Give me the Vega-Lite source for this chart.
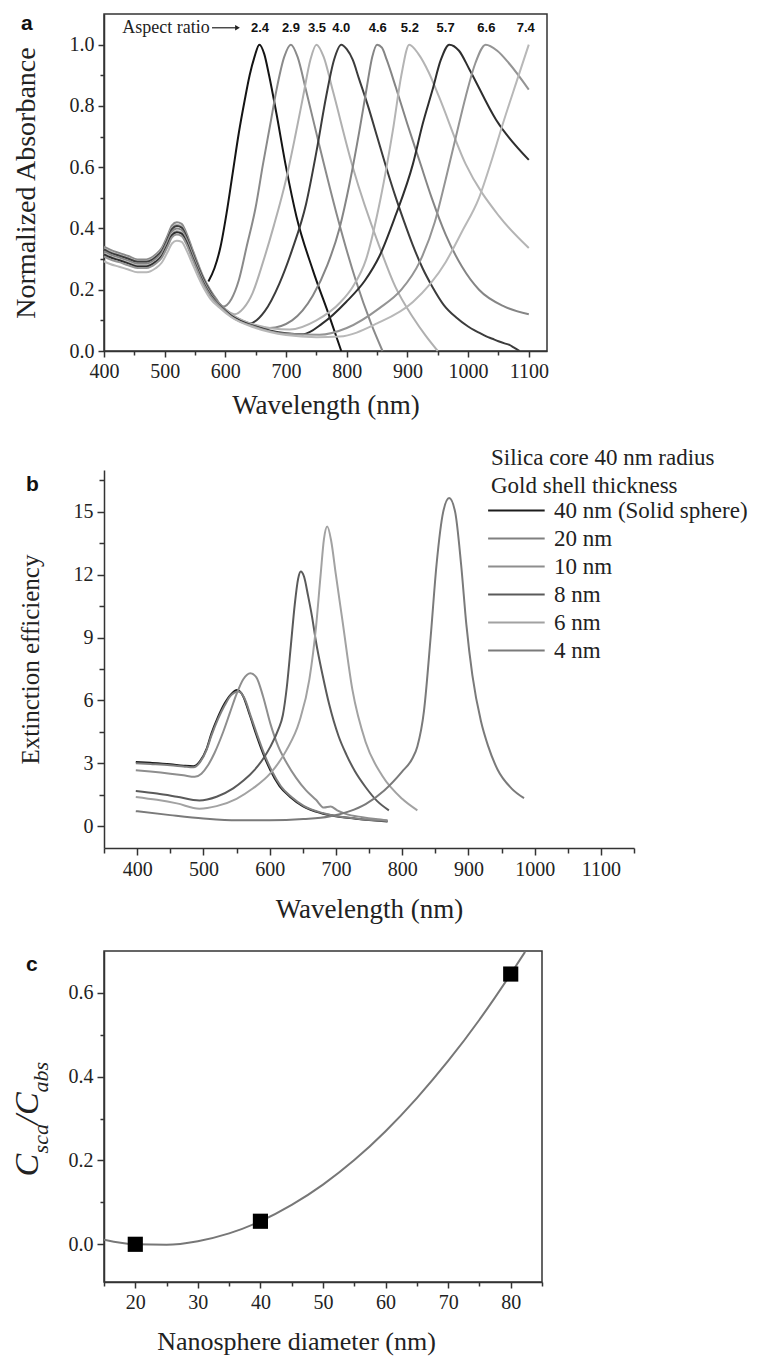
{
"$schema": "https://vega.github.io/schema/vega-lite/v6.json",
"background": "white",
"padding": {"left": 10, "top": 12, "right": 5, "bottom": 5},
"spacing": 28,
"resolve": {"scale": {"color": "independent"}, "legend": {"color": "independent"}},
"datasets": {
"absA": [
{"ar":"2.4","wl":572,"v":0.227},{"ar":"2.4","wl":582,"v":0.27},{"ar":"2.4","wl":592,"v":0.34},{"ar":"2.4","wl":602,"v":0.45},{"ar":"2.4","wl":612,"v":0.58},{"ar":"2.4","wl":622,"v":0.71},{"ar":"2.4","wl":632,"v":0.82},{"ar":"2.4","wl":640,"v":0.9},{"ar":"2.4","wl":648,"v":0.96},{"ar":"2.4","wl":656,"v":1.0},{"ar":"2.4","wl":664,"v":0.97},{"ar":"2.4","wl":672,"v":0.9},{"ar":"2.4","wl":684,"v":0.777},{"ar":"2.4","wl":700,"v":0.6},{"ar":"2.4","wl":717,"v":0.44},{"ar":"2.4","wl":744,"v":0.265},{"ar":"2.4","wl":772,"v":0.11},{"ar":"2.4","wl":791,"v":0.0},
{"ar":"2.9","wl":400,"v":0.341},{"ar":"2.9","wl":410,"v":0.331},{"ar":"2.9","wl":425,"v":0.32},{"ar":"2.9","wl":440,"v":0.31},{"ar":"2.9","wl":455,"v":0.299},{"ar":"2.9","wl":470,"v":0.299},{"ar":"2.9","wl":485,"v":0.315},{"ar":"2.9","wl":495,"v":0.336},{"ar":"2.9","wl":505,"v":0.378},{"ar":"2.9","wl":512,"v":0.41},{"ar":"2.9","wl":520,"v":0.42},{"ar":"2.9","wl":528,"v":0.415},{"ar":"2.9","wl":535,"v":0.389},{"ar":"2.9","wl":545,"v":0.336},{"ar":"2.9","wl":555,"v":0.284},{"ar":"2.9","wl":565,"v":0.236},{"ar":"2.9","wl":575,"v":0.2},{"ar":"2.9","wl":585,"v":0.17},{"ar":"2.9","wl":596,"v":0.145},{"ar":"2.9","wl":610,"v":0.17},{"ar":"2.9","wl":622,"v":0.23},{"ar":"2.9","wl":635,"v":0.34},{"ar":"2.9","wl":650,"v":0.47},{"ar":"2.9","wl":662,"v":0.61},{"ar":"2.9","wl":674,"v":0.74},{"ar":"2.9","wl":684,"v":0.85},{"ar":"2.9","wl":697,"v":0.96},{"ar":"2.9","wl":708,"v":1.0},{"ar":"2.9","wl":719,"v":0.96},{"ar":"2.9","wl":733,"v":0.85},{"ar":"2.9","wl":755,"v":0.67},{"ar":"2.9","wl":783,"v":0.45},{"ar":"2.9","wl":815,"v":0.23},{"ar":"2.9","wl":840,"v":0.09},{"ar":"2.9","wl":859,"v":0.0},
{"ar":"3.5","wl":400,"v":0.335},{"ar":"3.5","wl":410,"v":0.324},{"ar":"3.5","wl":425,"v":0.314},{"ar":"3.5","wl":440,"v":0.304},{"ar":"3.5","wl":455,"v":0.294},{"ar":"3.5","wl":470,"v":0.294},{"ar":"3.5","wl":485,"v":0.309},{"ar":"3.5","wl":495,"v":0.33},{"ar":"3.5","wl":505,"v":0.371},{"ar":"3.5","wl":512,"v":0.402},{"ar":"3.5","wl":520,"v":0.412},{"ar":"3.5","wl":528,"v":0.407},{"ar":"3.5","wl":535,"v":0.381},{"ar":"3.5","wl":545,"v":0.33},{"ar":"3.5","wl":555,"v":0.278},{"ar":"3.5","wl":565,"v":0.232},{"ar":"3.5","wl":575,"v":0.196},{"ar":"3.5","wl":585,"v":0.165},{"ar":"3.5","wl":600,"v":0.135},{"ar":"3.5","wl":615,"v":0.12},{"ar":"3.5","wl":630,"v":0.14},{"ar":"3.5","wl":645,"v":0.19},{"ar":"3.5","wl":662,"v":0.29},{"ar":"3.5","wl":680,"v":0.41},{"ar":"3.5","wl":700,"v":0.56},{"ar":"3.5","wl":715,"v":0.7},{"ar":"3.5","wl":728,"v":0.83},{"ar":"3.5","wl":740,"v":0.95},{"ar":"3.5","wl":750,"v":1.0},{"ar":"3.5","wl":762,"v":0.96},{"ar":"3.5","wl":777,"v":0.85},{"ar":"3.5","wl":810,"v":0.6},{"ar":"3.5","wl":854,"v":0.34},{"ar":"3.5","wl":880,"v":0.21},{"ar":"3.5","wl":909,"v":0.11},{"ar":"3.5","wl":930,"v":0.05},{"ar":"3.5","wl":950,"v":0.0},
{"ar":"4.0","wl":400,"v":0.332},{"ar":"4.0","wl":410,"v":0.321},{"ar":"4.0","wl":425,"v":0.311},{"ar":"4.0","wl":440,"v":0.301},{"ar":"4.0","wl":455,"v":0.291},{"ar":"4.0","wl":470,"v":0.291},{"ar":"4.0","wl":485,"v":0.306},{"ar":"4.0","wl":495,"v":0.326},{"ar":"4.0","wl":505,"v":0.367},{"ar":"4.0","wl":512,"v":0.398},{"ar":"4.0","wl":520,"v":0.408},{"ar":"4.0","wl":528,"v":0.403},{"ar":"4.0","wl":535,"v":0.377},{"ar":"4.0","wl":545,"v":0.326},{"ar":"4.0","wl":555,"v":0.275},{"ar":"4.0","wl":565,"v":0.23},{"ar":"4.0","wl":575,"v":0.194},{"ar":"4.0","wl":590,"v":0.15},{"ar":"4.0","wl":610,"v":0.115},{"ar":"4.0","wl":640,"v":0.09},{"ar":"4.0","wl":665,"v":0.13},{"ar":"4.0","wl":689,"v":0.22},{"ar":"4.0","wl":710,"v":0.33},{"ar":"4.0","wl":733,"v":0.48},{"ar":"4.0","wl":750,"v":0.65},{"ar":"4.0","wl":766,"v":0.83},{"ar":"4.0","wl":779,"v":0.95},{"ar":"4.0","wl":791,"v":1.0},{"ar":"4.0","wl":800,"v":0.985},{"ar":"4.0","wl":810,"v":0.95},{"ar":"4.0","wl":820,"v":0.89},{"ar":"4.0","wl":835,"v":0.8},{"ar":"4.0","wl":850,"v":0.7},{"ar":"4.0","wl":865,"v":0.6},{"ar":"4.0","wl":881,"v":0.5},{"ar":"4.0","wl":895,"v":0.42},{"ar":"4.0","wl":909,"v":0.345},{"ar":"4.0","wl":925,"v":0.27},{"ar":"4.0","wl":941,"v":0.21},{"ar":"4.0","wl":960,"v":0.15},{"ar":"4.0","wl":980,"v":0.11},{"ar":"4.0","wl":1000,"v":0.08},{"ar":"4.0","wl":1010,"v":0.068},{"ar":"4.0","wl":1018,"v":0.06},{"ar":"4.0","wl":1030,"v":0.048},{"ar":"4.0","wl":1040,"v":0.04},{"ar":"4.0","wl":1050,"v":0.032},{"ar":"4.0","wl":1060,"v":0.025},{"ar":"4.0","wl":1068,"v":0.02},{"ar":"4.0","wl":1075,"v":0.012},{"ar":"4.0","wl":1085,"v":0.0},
{"ar":"4.6","wl":400,"v":0.325},{"ar":"4.6","wl":410,"v":0.315},{"ar":"4.6","wl":425,"v":0.305},{"ar":"4.6","wl":440,"v":0.295},{"ar":"4.6","wl":455,"v":0.285},{"ar":"4.6","wl":470,"v":0.285},{"ar":"4.6","wl":485,"v":0.3},{"ar":"4.6","wl":495,"v":0.32},{"ar":"4.6","wl":505,"v":0.36},{"ar":"4.6","wl":512,"v":0.39},{"ar":"4.6","wl":520,"v":0.4},{"ar":"4.6","wl":528,"v":0.395},{"ar":"4.6","wl":535,"v":0.37},{"ar":"4.6","wl":545,"v":0.32},{"ar":"4.6","wl":555,"v":0.27},{"ar":"4.6","wl":565,"v":0.225},{"ar":"4.6","wl":575,"v":0.19},{"ar":"4.6","wl":590,"v":0.155},{"ar":"4.6","wl":610,"v":0.12},{"ar":"4.6","wl":640,"v":0.09},{"ar":"4.6","wl":673,"v":0.075},{"ar":"4.6","wl":710,"v":0.1},{"ar":"4.6","wl":744,"v":0.18},{"ar":"4.6","wl":768,"v":0.28},{"ar":"4.6","wl":788,"v":0.4},{"ar":"4.6","wl":805,"v":0.55},{"ar":"4.6","wl":821,"v":0.72},{"ar":"4.6","wl":833,"v":0.86},{"ar":"4.6","wl":842,"v":0.96},{"ar":"4.6","wl":850,"v":1.0},{"ar":"4.6","wl":858,"v":0.99},{"ar":"4.6","wl":866,"v":0.95},{"ar":"4.6","wl":881,"v":0.86},{"ar":"4.6","wl":900,"v":0.74},{"ar":"4.6","wl":920,"v":0.62},{"ar":"4.6","wl":940,"v":0.5},{"ar":"4.6","wl":963,"v":0.38},{"ar":"4.6","wl":990,"v":0.275},{"ar":"4.6","wl":1018,"v":0.2},{"ar":"4.6","wl":1060,"v":0.145},{"ar":"4.6","wl":1100,"v":0.12},
{"ar":"5.2","wl":400,"v":0.319},{"ar":"5.2","wl":410,"v":0.309},{"ar":"5.2","wl":425,"v":0.299},{"ar":"5.2","wl":440,"v":0.289},{"ar":"5.2","wl":455,"v":0.279},{"ar":"5.2","wl":470,"v":0.279},{"ar":"5.2","wl":485,"v":0.294},{"ar":"5.2","wl":495,"v":0.314},{"ar":"5.2","wl":505,"v":0.353},{"ar":"5.2","wl":512,"v":0.382},{"ar":"5.2","wl":520,"v":0.392},{"ar":"5.2","wl":528,"v":0.387},{"ar":"5.2","wl":535,"v":0.363},{"ar":"5.2","wl":545,"v":0.314},{"ar":"5.2","wl":555,"v":0.265},{"ar":"5.2","wl":565,"v":0.221},{"ar":"5.2","wl":575,"v":0.186},{"ar":"5.2","wl":590,"v":0.152},{"ar":"5.2","wl":610,"v":0.12},{"ar":"5.2","wl":650,"v":0.085},{"ar":"5.2","wl":706,"v":0.07},{"ar":"5.2","wl":750,"v":0.1},{"ar":"5.2","wl":790,"v":0.16},{"ar":"5.2","wl":810,"v":0.21},{"ar":"5.2","wl":832,"v":0.3},{"ar":"5.2","wl":856,"v":0.5},{"ar":"5.2","wl":876,"v":0.72},{"ar":"5.2","wl":890,"v":0.9},{"ar":"5.2","wl":903,"v":1.0},{"ar":"5.2","wl":918,"v":0.97},{"ar":"5.2","wl":935,"v":0.91},{"ar":"5.2","wl":952,"v":0.83},{"ar":"5.2","wl":996,"v":0.61},{"ar":"5.2","wl":1051,"v":0.44},{"ar":"5.2","wl":1100,"v":0.336},
{"ar":"5.7","wl":400,"v":0.315},{"ar":"5.7","wl":410,"v":0.306},{"ar":"5.7","wl":425,"v":0.296},{"ar":"5.7","wl":440,"v":0.286},{"ar":"5.7","wl":455,"v":0.276},{"ar":"5.7","wl":470,"v":0.276},{"ar":"5.7","wl":485,"v":0.291},{"ar":"5.7","wl":495,"v":0.31},{"ar":"5.7","wl":505,"v":0.349},{"ar":"5.7","wl":512,"v":0.378},{"ar":"5.7","wl":520,"v":0.388},{"ar":"5.7","wl":528,"v":0.383},{"ar":"5.7","wl":535,"v":0.359},{"ar":"5.7","wl":545,"v":0.31},{"ar":"5.7","wl":555,"v":0.262},{"ar":"5.7","wl":565,"v":0.218},{"ar":"5.7","wl":575,"v":0.184},{"ar":"5.7","wl":590,"v":0.15},{"ar":"5.7","wl":610,"v":0.115},{"ar":"5.7","wl":650,"v":0.08},{"ar":"5.7","wl":700,"v":0.058},{"ar":"5.7","wl":728,"v":0.055},{"ar":"5.7","wl":760,"v":0.09},{"ar":"5.7","wl":799,"v":0.16},{"ar":"5.7","wl":830,"v":0.23},{"ar":"5.7","wl":854,"v":0.31},{"ar":"5.7","wl":880,"v":0.44},{"ar":"5.7","wl":909,"v":0.61},{"ar":"5.7","wl":925,"v":0.74},{"ar":"5.7","wl":941,"v":0.85},{"ar":"5.7","wl":955,"v":0.95},{"ar":"5.7","wl":969,"v":1.0},{"ar":"5.7","wl":985,"v":0.98},{"ar":"5.7","wl":1002,"v":0.92},{"ar":"5.7","wl":1046,"v":0.755},{"ar":"5.7","wl":1100,"v":0.624},
{"ar":"6.6","wl":400,"v":0.309},{"ar":"6.6","wl":410,"v":0.299},{"ar":"6.6","wl":425,"v":0.29},{"ar":"6.6","wl":440,"v":0.28},{"ar":"6.6","wl":455,"v":0.271},{"ar":"6.6","wl":470,"v":0.271},{"ar":"6.6","wl":485,"v":0.285},{"ar":"6.6","wl":495,"v":0.304},{"ar":"6.6","wl":505,"v":0.342},{"ar":"6.6","wl":512,"v":0.371},{"ar":"6.6","wl":520,"v":0.38},{"ar":"6.6","wl":528,"v":0.375},{"ar":"6.6","wl":535,"v":0.352},{"ar":"6.6","wl":545,"v":0.304},{"ar":"6.6","wl":555,"v":0.257},{"ar":"6.6","wl":565,"v":0.214},{"ar":"6.6","wl":575,"v":0.181},{"ar":"6.6","wl":590,"v":0.148},{"ar":"6.6","wl":610,"v":0.112},{"ar":"6.6","wl":650,"v":0.078},{"ar":"6.6","wl":700,"v":0.056},{"ar":"6.6","wl":755,"v":0.053},{"ar":"6.6","wl":800,"v":0.075},{"ar":"6.6","wl":854,"v":0.14},{"ar":"6.6","wl":890,"v":0.2},{"ar":"6.6","wl":920,"v":0.29},{"ar":"6.6","wl":945,"v":0.42},{"ar":"6.6","wl":963,"v":0.56},{"ar":"6.6","wl":980,"v":0.7},{"ar":"6.6","wl":996,"v":0.83},{"ar":"6.6","wl":1012,"v":0.94},{"ar":"6.6","wl":1029,"v":1.0},{"ar":"6.6","wl":1048,"v":0.98},{"ar":"6.6","wl":1067,"v":0.94},{"ar":"6.6","wl":1100,"v":0.853},
{"ar":"7.4","wl":400,"v":0.293},{"ar":"7.4","wl":410,"v":0.284},{"ar":"7.4","wl":425,"v":0.275},{"ar":"7.4","wl":440,"v":0.266},{"ar":"7.4","wl":455,"v":0.257},{"ar":"7.4","wl":470,"v":0.257},{"ar":"7.4","wl":485,"v":0.27},{"ar":"7.4","wl":495,"v":0.288},{"ar":"7.4","wl":505,"v":0.324},{"ar":"7.4","wl":512,"v":0.351},{"ar":"7.4","wl":520,"v":0.36},{"ar":"7.4","wl":528,"v":0.356},{"ar":"7.4","wl":535,"v":0.333},{"ar":"7.4","wl":545,"v":0.288},{"ar":"7.4","wl":555,"v":0.243},{"ar":"7.4","wl":565,"v":0.203},{"ar":"7.4","wl":575,"v":0.171},{"ar":"7.4","wl":590,"v":0.142},{"ar":"7.4","wl":610,"v":0.11},{"ar":"7.4","wl":650,"v":0.075},{"ar":"7.4","wl":700,"v":0.052},{"ar":"7.4","wl":750,"v":0.045},{"ar":"7.4","wl":788,"v":0.047},{"ar":"7.4","wl":850,"v":0.09},{"ar":"7.4","wl":909,"v":0.16},{"ar":"7.4","wl":963,"v":0.29},{"ar":"7.4","wl":990,"v":0.39},{"ar":"7.4","wl":1018,"v":0.5},{"ar":"7.4","wl":1040,"v":0.63},{"ar":"7.4","wl":1057,"v":0.74},{"ar":"7.4","wl":1080,"v":0.88},{"ar":"7.4","wl":1100,"v":1.0}
],
"arLab": [
{"ar":"2.4","wl":657},{"ar":"2.9","wl":708},{"ar":"3.5","wl":751},{"ar":"4.0","wl":791},{"ar":"4.6","wl":851},{"ar":"5.2","wl":904},{"ar":"5.7","wl":963},{"ar":"6.6","wl":1030},{"ar":"7.4","wl":1095}
],
"extB": [
{"shell":"40 nm (Solid sphere)","wl":398,"e":3.06},{"shell":"40 nm (Solid sphere)","wl":420,"e":3.02},{"shell":"40 nm (Solid sphere)","wl":450,"e":2.95},{"shell":"40 nm (Solid sphere)","wl":470,"e":2.88},{"shell":"40 nm (Solid sphere)","wl":485,"e":2.85},{"shell":"40 nm (Solid sphere)","wl":495,"e":3.1},{"shell":"40 nm (Solid sphere)","wl":505,"e":3.7},{"shell":"40 nm (Solid sphere)","wl":512,"e":4.4},{"shell":"40 nm (Solid sphere)","wl":522,"e":5.2},{"shell":"40 nm (Solid sphere)","wl":532,"e":5.85},{"shell":"40 nm (Solid sphere)","wl":542,"e":6.3},{"shell":"40 nm (Solid sphere)","wl":551,"e":6.49},{"shell":"40 nm (Solid sphere)","wl":560,"e":6.2},{"shell":"40 nm (Solid sphere)","wl":570,"e":5.3},{"shell":"40 nm (Solid sphere)","wl":581,"e":4.26},{"shell":"40 nm (Solid sphere)","wl":591,"e":3.4},{"shell":"40 nm (Solid sphere)","wl":601,"e":2.67},{"shell":"40 nm (Solid sphere)","wl":615,"e":1.9},{"shell":"40 nm (Solid sphere)","wl":631,"e":1.39},{"shell":"40 nm (Solid sphere)","wl":650,"e":0.95},{"shell":"40 nm (Solid sphere)","wl":677,"e":0.62},{"shell":"40 nm (Solid sphere)","wl":700,"e":0.47},{"shell":"40 nm (Solid sphere)","wl":730,"e":0.35},{"shell":"40 nm (Solid sphere)","wl":760,"e":0.26},{"shell":"40 nm (Solid sphere)","wl":778,"e":0.22},
{"shell":"20 nm","wl":398,"e":3.0},{"shell":"20 nm","wl":420,"e":2.96},{"shell":"20 nm","wl":450,"e":2.9},{"shell":"20 nm","wl":470,"e":2.84},{"shell":"20 nm","wl":485,"e":2.8},{"shell":"20 nm","wl":495,"e":3.05},{"shell":"20 nm","wl":505,"e":3.65},{"shell":"20 nm","wl":512,"e":4.3},{"shell":"20 nm","wl":522,"e":5.1},{"shell":"20 nm","wl":532,"e":5.75},{"shell":"20 nm","wl":542,"e":6.25},{"shell":"20 nm","wl":553,"e":6.42},{"shell":"20 nm","wl":562,"e":6.1},{"shell":"20 nm","wl":572,"e":5.2},{"shell":"20 nm","wl":583,"e":4.2},{"shell":"20 nm","wl":593,"e":3.35},{"shell":"20 nm","wl":603,"e":2.65},{"shell":"20 nm","wl":617,"e":1.9},{"shell":"20 nm","wl":633,"e":1.38},{"shell":"20 nm","wl":652,"e":0.95},{"shell":"20 nm","wl":680,"e":0.62},{"shell":"20 nm","wl":700,"e":0.48},{"shell":"20 nm","wl":730,"e":0.36},{"shell":"20 nm","wl":760,"e":0.27},{"shell":"20 nm","wl":778,"e":0.24},
{"shell":"10 nm","wl":398,"e":2.66},{"shell":"10 nm","wl":420,"e":2.6},{"shell":"10 nm","wl":450,"e":2.5},{"shell":"10 nm","wl":470,"e":2.42},{"shell":"10 nm","wl":487,"e":2.35},{"shell":"10 nm","wl":497,"e":2.5},{"shell":"10 nm","wl":507,"e":2.9},{"shell":"10 nm","wl":517,"e":3.5},{"shell":"10 nm","wl":530,"e":4.5},{"shell":"10 nm","wl":540,"e":5.4},{"shell":"10 nm","wl":550,"e":6.3},{"shell":"10 nm","wl":560,"e":7.0},{"shell":"10 nm","wl":571,"e":7.3},{"shell":"10 nm","wl":580,"e":7.1},{"shell":"10 nm","wl":590,"e":6.2},{"shell":"10 nm","wl":601,"e":4.9},{"shell":"10 nm","wl":613,"e":3.8},{"shell":"10 nm","wl":626,"e":3.0},{"shell":"10 nm","wl":640,"e":2.3},{"shell":"10 nm","wl":655,"e":1.7},{"shell":"10 nm","wl":670,"e":1.25},{"shell":"10 nm","wl":682,"e":0.88},{"shell":"10 nm","wl":692,"e":0.93},{"shell":"10 nm","wl":702,"e":0.75},{"shell":"10 nm","wl":715,"e":0.58},{"shell":"10 nm","wl":740,"e":0.42},{"shell":"10 nm","wl":760,"e":0.33},{"shell":"10 nm","wl":778,"e":0.27},
{"shell":"8 nm","wl":398,"e":1.67},{"shell":"8 nm","wl":430,"e":1.55},{"shell":"8 nm","wl":460,"e":1.4},{"shell":"8 nm","wl":494,"e":1.22},{"shell":"8 nm","wl":520,"e":1.4},{"shell":"8 nm","wl":545,"e":1.8},{"shell":"8 nm","wl":561,"e":2.18},{"shell":"8 nm","wl":577,"e":2.67},{"shell":"8 nm","wl":590,"e":3.2},{"shell":"8 nm","wl":601,"e":3.78},{"shell":"8 nm","wl":613,"e":4.6},{"shell":"8 nm","wl":620,"e":5.3},{"shell":"8 nm","wl":626,"e":6.65},{"shell":"8 nm","wl":632,"e":8.6},{"shell":"8 nm","wl":638,"e":10.6},{"shell":"8 nm","wl":643,"e":11.8},{"shell":"8 nm","wl":647,"e":12.15},{"shell":"8 nm","wl":652,"e":11.9},{"shell":"8 nm","wl":658,"e":11.0},{"shell":"8 nm","wl":664,"e":10.0},{"shell":"8 nm","wl":670,"e":8.8},{"shell":"8 nm","wl":680,"e":7.2},{"shell":"8 nm","wl":690,"e":5.8},{"shell":"8 nm","wl":704,"e":4.3},{"shell":"8 nm","wl":716,"e":3.4},{"shell":"8 nm","wl":729,"e":2.6},{"shell":"8 nm","wl":745,"e":1.85},{"shell":"8 nm","wl":762,"e":1.2},{"shell":"8 nm","wl":780,"e":0.75},
{"shell":"6 nm","wl":398,"e":1.39},{"shell":"6 nm","wl":430,"e":1.25},{"shell":"6 nm","wl":460,"e":1.08},{"shell":"6 nm","wl":494,"e":0.83},{"shell":"6 nm","wl":520,"e":0.95},{"shell":"6 nm","wl":550,"e":1.3},{"shell":"6 nm","wl":575,"e":1.8},{"shell":"6 nm","wl":601,"e":2.51},{"shell":"6 nm","wl":625,"e":3.6},{"shell":"6 nm","wl":645,"e":5.0},{"shell":"6 nm","wl":660,"e":7.0},{"shell":"6 nm","wl":670,"e":9.5},{"shell":"6 nm","wl":677,"e":12.0},{"shell":"6 nm","wl":682,"e":13.7},{"shell":"6 nm","wl":687,"e":14.3},{"shell":"6 nm","wl":693,"e":13.6},{"shell":"6 nm","wl":700,"e":12.0},{"shell":"6 nm","wl":710,"e":9.8},{"shell":"6 nm","wl":725,"e":6.5},{"shell":"6 nm","wl":745,"e":4.0},{"shell":"6 nm","wl":770,"e":2.4},{"shell":"6 nm","wl":800,"e":1.3},{"shell":"6 nm","wl":823,"e":0.75},
{"shell":"4 nm","wl":398,"e":0.71},{"shell":"4 nm","wl":450,"e":0.52},{"shell":"4 nm","wl":500,"e":0.36},{"shell":"4 nm","wl":551,"e":0.27},{"shell":"4 nm","wl":600,"e":0.27},{"shell":"4 nm","wl":651,"e":0.33},{"shell":"4 nm","wl":690,"e":0.45},{"shell":"4 nm","wl":720,"e":0.7},{"shell":"4 nm","wl":745,"e":1.05},{"shell":"4 nm","wl":773,"e":1.7},{"shell":"4 nm","wl":800,"e":2.6},{"shell":"4 nm","wl":815,"e":3.2},{"shell":"4 nm","wl":823,"e":3.8},{"shell":"4 nm","wl":833,"e":5.5},{"shell":"4 nm","wl":843,"e":9.0},{"shell":"4 nm","wl":852,"e":12.5},{"shell":"4 nm","wl":862,"e":15.0},{"shell":"4 nm","wl":871,"e":15.66},{"shell":"4 nm","wl":880,"e":15.0},{"shell":"4 nm","wl":889,"e":12.5},{"shell":"4 nm","wl":897,"e":9.6},{"shell":"4 nm","wl":906,"e":7.2},{"shell":"4 nm","wl":919,"e":5.0},{"shell":"4 nm","wl":930,"e":3.8},{"shell":"4 nm","wl":944,"e":2.7},{"shell":"4 nm","wl":965,"e":1.8},{"shell":"4 nm","wl":984,"e":1.33}
],
"fitC": [
{"d":15,"r":0.011},{"d":20,"r":0.0},{"d":25,"r":-0.001},{"d":30,"r":0.0075},{"d":35,"r":0.026},{"d":40,"r":0.055},{"d":45,"r":0.094},{"d":50,"r":0.1425},{"d":55,"r":0.201},{"d":60,"r":0.27},{"d":65,"r":0.349},{"d":70,"r":0.4375},{"d":75,"r":0.536},{"d":80,"r":0.645},{"d":82.3,"r":0.698}
],
"ptsC": [
{"d":20,"r":0.0},{"d":40,"r":0.055},{"d":80,"r":0.645}
]
},
"vconcat": [
{
"width": 443, "height": 337,
"title": {"text": "a", "anchor": "start", "frame": "group", "font": "Liberation Sans", "fontSize": 21, "fontWeight": "bold", "color": "#111", "dx": -83, "dy": 20, "offset": 0},
"layer": [
{"data": {"name": "absA"},
 "mark": {"type": "line", "interpolate": "monotone", "strokeWidth": 2},
 "encoding": {
  "x": {"field": "wl", "type": "quantitative", "scale": {"domain": [400, 1130], "nice": false, "zero": false},
   "axis": {"title": "Wavelength (nm)", "titleFontSize": 27, "values": [400,450,500,550,600,650,700,750,800,850,900,950,1000,1050,1100], "tickCount": 100,
     "labelExpr": "datum.value % 100 === 0 ? format(datum.value, 'd') : ''",
     "tickSize": {"condition": {"test": "datum.value % 100 === 0", "value": 6}, "value": 4},
     "labelPadding": 4, "titlePadding": 11}},
  "y": {"field": "v", "type": "quantitative", "scale": {"domain": [0, 1.1], "nice": false},
   "axis": {"title": "Normalized Absorbance", "titleFontSize": 28, "values": [0,0.1,0.2,0.3,0.4,0.5,0.6,0.7,0.8,0.9,1.0], "tickCount": 100,
     "labelExpr": "round(datum.value*10) % 2 === 0 ? format(datum.value, '.1f') : ''",
     "tickSize": {"condition": {"test": "round(datum.value*10) % 2 === 0", "value": 6}, "value": 4},
     "labelPadding": 4, "titlePadding": 29}},
  "color": {"field": "ar", "type": "nominal",
   "scale": {"domain": ["2.4","2.9","3.5","4.0","4.6","5.2","5.7","6.6","7.4"],
     "range": ["#141414","#8a8a8a","#b0b0b0","#3c3c3c","#858585","#b4b4b4","#2e2e2e","#949494","#b8b8b8"]},
   "legend": null}
 }},
{"data": {"values": [{}]},
 "mark": {"type": "text", "text": "Aspect ratio", "align": "left", "baseline": "middle", "font": "Liberation Serif", "fontSize": 18, "color": "#222"},
 "encoding": {"x": {"datum": 430}, "y": {"datum": 1.055}}},
{"data": {"values": [{}]},
 "mark": {"type": "rule", "color": "#222", "strokeWidth": 1.2},
 "encoding": {"x": {"datum": 578}, "x2": {"datum": 617}, "y": {"datum": 1.055}}},
{"data": {"values": [{}]},
 "mark": {"type": "point", "shape": "triangle-right", "filled": true, "color": "#222", "size": 30, "opacity": 1},
 "encoding": {"x": {"datum": 620}, "y": {"datum": 1.055}}},
{"data": {"name": "arLab"},
 "mark": {"type": "text", "font": "Liberation Sans", "fontWeight": "bold", "fontSize": 13, "color": "#111", "baseline": "middle"},
 "encoding": {"x": {"field": "wl", "type": "quantitative"}, "y": {"datum": 1.055}, "text": {"field": "ar"}}}
]
},
{
"width": 530, "height": 378,
"view": {"stroke": null},
"title": {"text": "b", "anchor": "start", "frame": "group", "font": "Liberation Sans", "fontSize": 21, "fontWeight": "bold", "color": "#111", "dx": -78, "dy": 48, "offset": 0},
"data": {"name": "extB"},
"mark": {"type": "line", "interpolate": "monotone", "strokeWidth": 2},
"encoding": {
 "x": {"field": "wl", "type": "quantitative", "scale": {"domain": [350, 1150], "nice": false, "zero": false},
  "axis": {"title": "Wavelength (nm)", "titleFontSize": 27, "values": [350,400,450,500,550,600,650,700,750,800,850,900,950,1000,1050,1100,1150], "tickCount": 100,
    "labelExpr": "datum.value % 100 === 0 ? format(datum.value, 'd') : ''",
    "tickSize": {"condition": {"test": "datum.value % 100 === 0", "value": 7}, "value": 5},
    "labelPadding": 4, "titlePadding": 17}},
 "y": {"field": "e", "type": "quantitative", "scale": {"domain": [-1.05, 17], "nice": false, "zero": false},
  "axis": {"title": "Extinction efficiency", "titleFontSize": 25, "values": [0,1.5,3,4.5,6,7.5,9,10.5,12,13.5,15,16.5], "tickCount": 100,
    "labelExpr": "datum.value % 3 === 0 ? format(datum.value, 'd') : ''",
    "tickSize": {"condition": {"test": "datum.value % 3 === 0", "value": 7}, "value": 5},
    "labelPadding": 4, "titlePadding": 30}},
 "color": {"field": "shell", "type": "nominal",
  "scale": {"domain": ["40 nm (Solid sphere)","20 nm","10 nm","8 nm","6 nm","4 nm"],
    "range": ["#1c1c1c","#808080","#8e8e8e","#5a5a5a","#a2a2a2","#7a7a7a"]},
  "legend": {"orient": "none", "legendX": 387, "legendY": -23,
    "title": ["Silica core 40 nm radius", "Gold shell thickness"],
    "titleFont": "Liberation Serif", "titleFontSize": 23, "titleFontWeight": "normal", "titleColor": "#222", "titleLineHeight": 28, "titlePadding": -3, "titleLimit": 500,
    "labelFont": "Liberation Serif", "labelFontSize": 23, "labelColor": "#222", "labelOffset": 32, "labelLimit": 500,
    "symbolType": "M-1.3,0H2.7", "symbolSize": 800, "symbolStrokeWidth": 2, "rowPadding": 0}}
}
},
{
"width": 438, "height": 331,
"title": {"text": "c", "anchor": "start", "frame": "group", "font": "Liberation Sans", "fontSize": 21, "fontWeight": "bold", "color": "#111", "dx": -78, "dy": 24, "offset": 0},
"layer": [
{"encoding": {
  "x": {"field": "d", "type": "quantitative", "scale": {"domain": [15, 85], "nice": false, "zero": false},
   "axis": {"title": "Nanosphere diameter (nm)", "titleX": 192, "values": [15,20,25,30,35,40,45,50,55,60,65,70,75,80,85], "tickCount": 100,
     "labelExpr": "datum.value % 10 === 0 ? format(datum.value, 'd') : ''",
     "tickSize": {"condition": {"test": "datum.value % 10 === 0", "value": 6}, "value": 4},
     "labelPadding": 4, "titlePadding": 16}},
  "y": {"field": "r", "type": "quantitative", "scale": {"domain": [-0.09, 0.7], "nice": false, "zero": false},
   "axis": {"title": null, "values": [0,0.1,0.2,0.3,0.4,0.5,0.6], "tickCount": 100,
     "labelExpr": "round(datum.value*10) % 2 === 0 ? format(datum.value, '.1f') : ''",
     "tickSize": {"condition": {"test": "round(datum.value*10) % 2 === 0", "value": 7}, "value": 4},
     "labelPadding": 4}}
 },
 "layer": [
  {"data": {"name": "fitC"},
   "mark": {"type": "line", "interpolate": "monotone", "color": "#777", "strokeWidth": 2, "clip": true}},
  {"data": {"name": "ptsC"},
   "mark": {"type": "square", "size": 230, "color": "#000", "filled": true, "opacity": 1}}
 ]},
{"data": {"values": [{}]},
 "mark": {"type": "text", "text": "C", "angle": 270, "align": "left", "baseline": "alphabetic", "font": "Liberation Serif", "fontStyle": "italic", "fontSize": 34, "color": "#222"},
 "encoding": {"x": {"datum": 4.45}, "y": {"datum": 0.162}}},
{"data": {"values": [{}]},
 "mark": {"type": "text", "text": "sca", "angle": 270, "align": "left", "baseline": "alphabetic", "font": "Liberation Serif", "fontStyle": "italic", "fontSize": 22, "color": "#222", "dx": 23, "dy": 10},
 "encoding": {"x": {"datum": 4.45}, "y": {"datum": 0.162}}},
{"data": {"values": [{}]},
 "mark": {"type": "text", "text": "/C", "angle": 270, "align": "left", "baseline": "alphabetic", "font": "Liberation Serif", "fontStyle": "italic", "fontSize": 34, "color": "#222", "dx": 52},
 "encoding": {"x": {"datum": 4.45}, "y": {"datum": 0.162}}},
{"data": {"values": [{}]},
 "mark": {"type": "text", "text": "abs", "angle": 270, "align": "left", "baseline": "alphabetic", "font": "Liberation Serif", "fontStyle": "italic", "fontSize": 22, "color": "#222", "dx": 84, "dy": 10},
 "encoding": {"x": {"datum": 4.45}, "y": {"datum": 0.162}}}
]
}
],
"config": {
 "font": "Liberation Serif",
 "view": {"stroke": "#333", "strokeWidth": 1.5},
 "axis": {"domainColor": "#333", "domainWidth": 1.5, "tickColor": "#333", "tickWidth": 1.5,
   "labelFont": "Liberation Serif", "labelFontSize": 20, "labelColor": "#222",
   "titleFont": "Liberation Serif", "titleFontSize": 26, "titleFontWeight": "normal", "titleColor": "#222",
   "grid": false, "labelOverlap": false, "labelFlush": false}
}
}
